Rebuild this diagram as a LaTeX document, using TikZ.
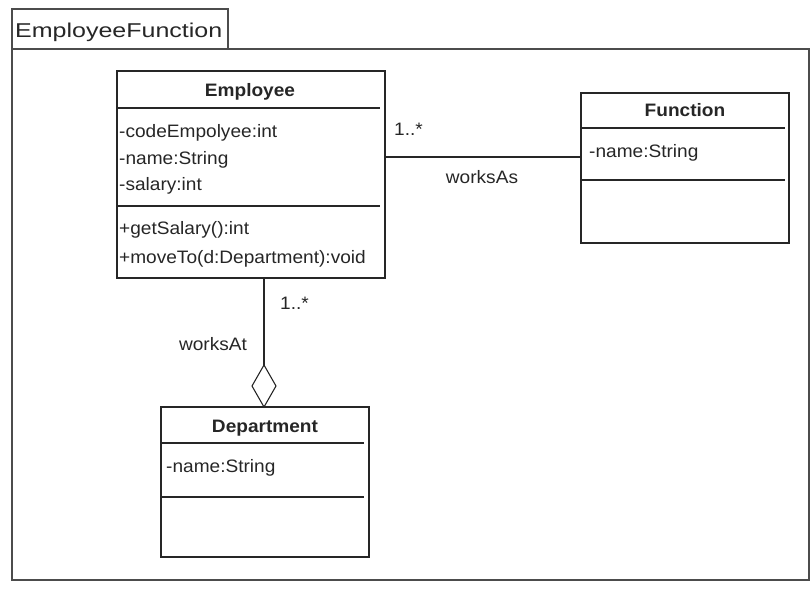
\documentclass[tikz,border=0pt]{standalone}
\usepackage{fontspec}
\setmainfont{Liberation Sans}[FakeStretch=1.06]
\newfontfamily\titlefont{Liberation Sans}[FakeStretch=1.25]
\usetikzlibrary{shapes.geometric}
\tikzset{
  box/.style={draw=black!85, line width=1.1pt, inner sep=0, outer sep=0},
  frame/.style={draw=black!70, line width=1.4pt, inner sep=0, outer sep=0},
  sep/.style={draw=black!85, line width=1.1pt},
  conn/.style={draw=black!85, line width=1.1pt},
  txt/.style={font=\fontsize{18pt}{20pt}\selectfont, inner sep=0, text=black!85},
  hdr/.style={txt, font=\fontsize{18pt}{20pt}\selectfont\bfseries, anchor=base},
  attr/.style={txt, anchor=base west},
  agg/.style={diamond, draw=black!85, line width=1.1pt, fill=white, inner sep=0, outer sep=0, minimum width=24pt, minimum height=42pt}
}
\begin{document}
\begin{tikzpicture}[x=1pt,y=-1pt]
\useasboundingbox (0,0) rectangle (811,590);
% package
\node[frame, minimum width=216pt, minimum height=40pt] (tab) at (120,29) {};
\node[frame, minimum width=797pt, minimum height=531pt] (pkg) at (410.5,314.5) {};
\node[txt, anchor=base west, font=\titlefont\fontsize{20pt}{22pt}\selectfont] (pkgname) at (15,37.3) {EmployeeFunction};

% Employee
\node[box, minimum width=268pt, minimum height=207pt] (emp) at (251,174.5) {};
\node[hdr] (empname) at (250,96.5) {Employee};
\draw[sep] (117,108) -- (380,108);
\node[attr] (ea1) at (119,137.5) {-codeEmpolyee:int};
\node[attr] (ea2) at (119,164) {-name:String};
\node[attr] (ea3) at (119,190.5) {-salary:int};
\draw[sep] (117,206) -- (380,206);
\node[attr] (em1) at (119,234.5) {+getSalary():int};
\node[attr] (em2) at (119,263.5) {+moveTo(d:Department):void};

% Function
\node[box, minimum width=208pt, minimum height=150pt] (fun) at (685,168) {};
\node[hdr] (funname) at (685,116.5) {Function};
\draw[sep] (581,128) -- (785,128);
\node[attr] (fa1) at (589,157) {-name:String};
\draw[sep] (581,180) -- (785,180);

% Department
\node[box, minimum width=208pt, minimum height=150pt] (dep) at (265,482) {};
\node[hdr] (depname) at (265,432) {Department};
\draw[sep] (161,443) -- (364,443);
\node[attr] (da1) at (166,472.5) {-name:String};
\draw[sep] (161,497) -- (364,497);

% worksAs association
\draw[conn] (emp.east |- 0,157) -- (fun.west |- 0,157);
\node[attr] (m1) at (394,135.7) {1..*};
\node[txt, anchor=base] (worksAs) at (482,183.3) {worksAs};

% worksAt aggregation
\node[agg, anchor=south] (dia) at (264,407) {};
\draw[conn] (emp.south -| dia.north) -- (dia.north);
\node[attr] (m2) at (280,309) {1..*};
\node[txt, anchor=base] (worksAt) at (213,350) {worksAt};
\end{tikzpicture}
\end{document}
